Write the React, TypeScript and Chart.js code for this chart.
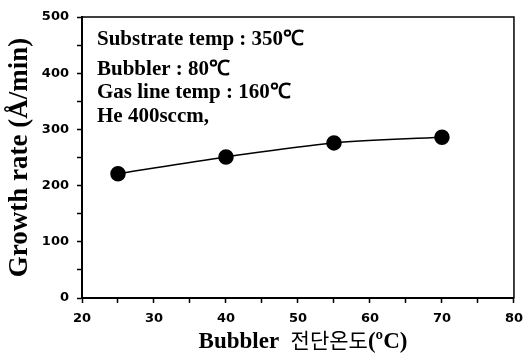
import React, { useEffect, useRef } from "react";
import { Chart, registerables } from "chart.js";

Chart.register(...registerables);

const bubblerTemps = [25, 40, 55, 70];
const growthRates = [221, 251, 276, 286];
const notes = ["Substrate temp : 350\u2103", "Bubbler : 80\u2103", "Gas line temp : 160\u2103", "He 400sccm,"];
const yTitle = "Growth rate (\u00C5/min)";
const xTitleParts = ["Bubbler  ", "\uC804\uB2E8\uC628\uB3C4", "(\u00BAC)"];

const overlayPlugin = {
  id: "overlay",
  beforeDatasetsDraw(chart: any) {
    const { ctx, chartArea } = chart;
    ctx.save();
    ctx.strokeStyle = "#000";
    ctx.lineWidth = 1.5;
    ctx.strokeRect(chartArea.left, chartArea.top, chartArea.right - chartArea.left, chartArea.bottom - chartArea.top);
    ctx.fillStyle = "#000";
    ctx.font = "bold 21px 'Liberation Serif', serif";
    ctx.textBaseline = "alphabetic";
    ctx.textAlign = "left";
    const baselines = [45, 75, 98, 122];
    notes.forEach((t, i) => {
      ctx.fillText(t, chartArea.left + 15, chartArea.top + baselines[i] - 17);
    });
    ctx.restore();
  },
  afterDraw(chart: any) {
    const { ctx, chartArea } = chart;
    ctx.save();
    ctx.fillStyle = "#000";
    ctx.textBaseline = "alphabetic";
    const fonts = [
      "bold 23px 'Liberation Serif', serif",
      "21px 'Noto Sans CJK KR', sans-serif",
      "bold 23px 'Liberation Serif', serif",
    ];
    let total = 0;
    const widths = xTitleParts.map((p, i) => {
      ctx.font = fonts[i];
      const w = ctx.measureText(p).width;
      total += w;
      return w;
    });
    let x = 303 - total / 2;
    const y = chartArea.bottom + 50;
    xTitleParts.forEach((p, i) => {
      ctx.font = fonts[i];
      ctx.fillText(p, x, y);
      x += widths[i];
    });
    ctx.restore();
  },
};

export default function App() {
  const ref = useRef<HTMLCanvasElement>(null);
  useEffect(() => {
    document.body.style.margin = "0";
    const chart = new Chart(ref.current!, {
      type: "line",
      data: {
        datasets: [
          {
            data: bubblerTemps.map((x, i) => ({ x, y: growthRates[i] })),
            borderColor: "#000",
            backgroundColor: "#000",
            borderWidth: 1.5,
            pointRadius: 7,
            pointBackgroundColor: "#000",
            pointBorderColor: "#000",
            cubicInterpolationMode: "monotone",
          },
        ],
      },
      options: {
        responsive: false,
        animation: false,
        layout: { padding: { left: 0, top: 17, right: 8, bottom: 0 } },
        plugins: { legend: { display: false }, tooltip: { enabled: false } },
        scales: {
          x: {
            type: "linear",
            min: 20,
            max: 80,
            afterFit(scale: any) {
              scale.height = 57;
            },
            border: { display: true, color: "#000", width: 2 },
            grid: { drawOnChartArea: false, drawTicks: true, tickLength: 5, tickColor: "#000", tickWidth: 1.5 },
            ticks: {
              stepSize: 5,
              autoSkip: false,
              maxRotation: 0,
              padding: 8,
              color: "#000",
              font: { family: "'DejaVu Sans', sans-serif", weight: "bold", size: 13 },
              callback: (v: any) => (v % 10 === 0 ? String(v) : ""),
            },
            title: { display: false },
          },
          y: {
            min: 0,
            max: 500,
            afterFit(scale: any) {
              scale.width = 82;
            },
            border: { display: true, color: "#000", width: 2 },
            grid: { drawOnChartArea: false, drawTicks: true, tickLength: 5, tickColor: "#000", tickWidth: 1.5 },
            ticks: {
              stepSize: 50,
              autoSkip: false,
              padding: 8,
              color: "#000",
              font: { family: "'DejaVu Sans', sans-serif", weight: "bold", size: 13 },
              callback: (v: any) => (v % 100 === 0 ? String(v) : ""),
            },
            title: {
              display: true,
              text: yTitle,
              color: "#000",
              font: { family: "'Liberation Serif', serif", weight: "bold", size: 27 },
              padding: { top: 4, bottom: 0 },
            },
          },
        },
      },
      plugins: [overlayPlugin],
    } as any);
    return () => chart.destroy();
  }, []);
  return <canvas ref={ref} width={531} height={355} style={{ display: "block" }} />;
}
